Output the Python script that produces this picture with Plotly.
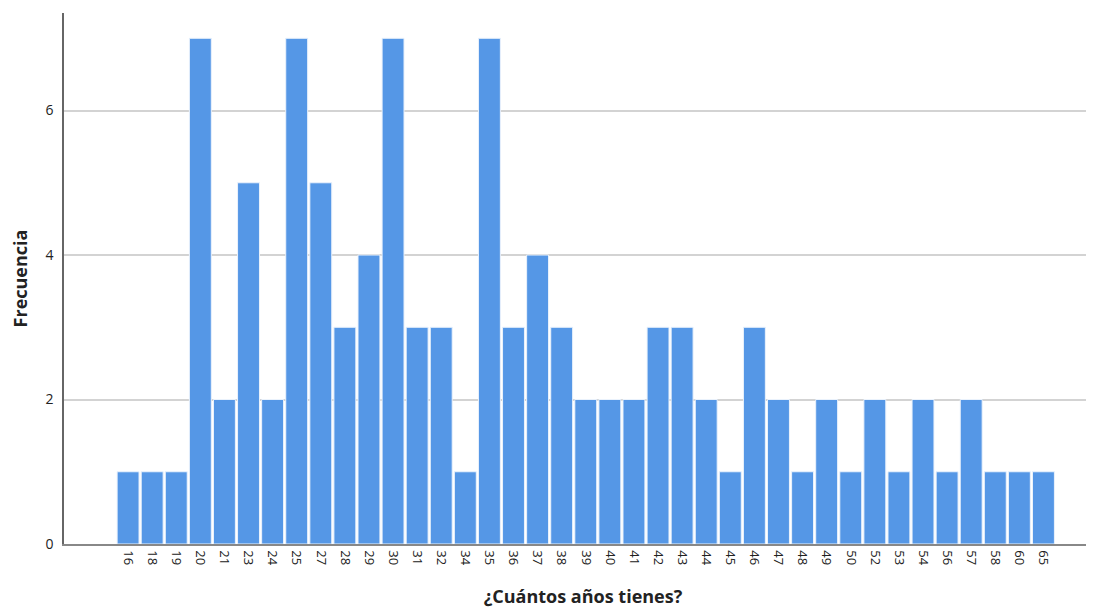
import plotly.graph_objects as go

edades = ["16","18","19","20","21","23","24","25","27","28","29","30","31","32","34","35","36","37","38","39",
          "40","41","42","43","44","45","46","47","48","49","50","52","53","54","56","57","58","60","65"]
frecuencia = [1,1,1,7,2,5,2,7,5,3,4,7,3,3,1,7,3,4,3,2,
              2,2,3,3,2,1,3,2,1,2,1,2,1,2,1,2,1,1,1]

fig = go.Figure(go.Bar(
    x=edades, y=frecuencia,
    marker=dict(color="#5597E6", line=dict(color="#EAF2FC", width=1)),
))

fig.update_layout(
    width=1094, height=609,
    margin=dict(l=56, r=0, t=5, b=73),
    paper_bgcolor="white", plot_bgcolor="white",
    bargap=0.09,
    showlegend=False,
    font=dict(family="Open Sans, Noto Sans, sans-serif", color="#222"),
)
fig.update_xaxes(
    type="category", range=[-2.66, 40.43],
    tickangle=90, tickfont=dict(size=13, color="#222"),
    showline=True, linecolor="#888", linewidth=1.5,
    ticks="", showgrid=False, ticklabelstandoff=2,
    title=dict(text="<b>¿Cuántos años tienes?</b>", font=dict(size=18, color="#222"), standoff=26),
)
fig.update_yaxes(
    range=[0, 7.35], tickvals=[0, 2, 4, 6],
    tickfont=dict(size=14, color="#222"),
    showline=True, linecolor="#666", linewidth=1.5,
    showgrid=True, gridcolor="#D3D3D3", gridwidth=1.5,
    zeroline=False, ticks="", ticklen=0, ticklabelstandoff=6,
    title=dict(text="<b>Frecuencia</b>", font=dict(size=18, color="#222"), standoff=18),
)

fig.write_html("out.html")
